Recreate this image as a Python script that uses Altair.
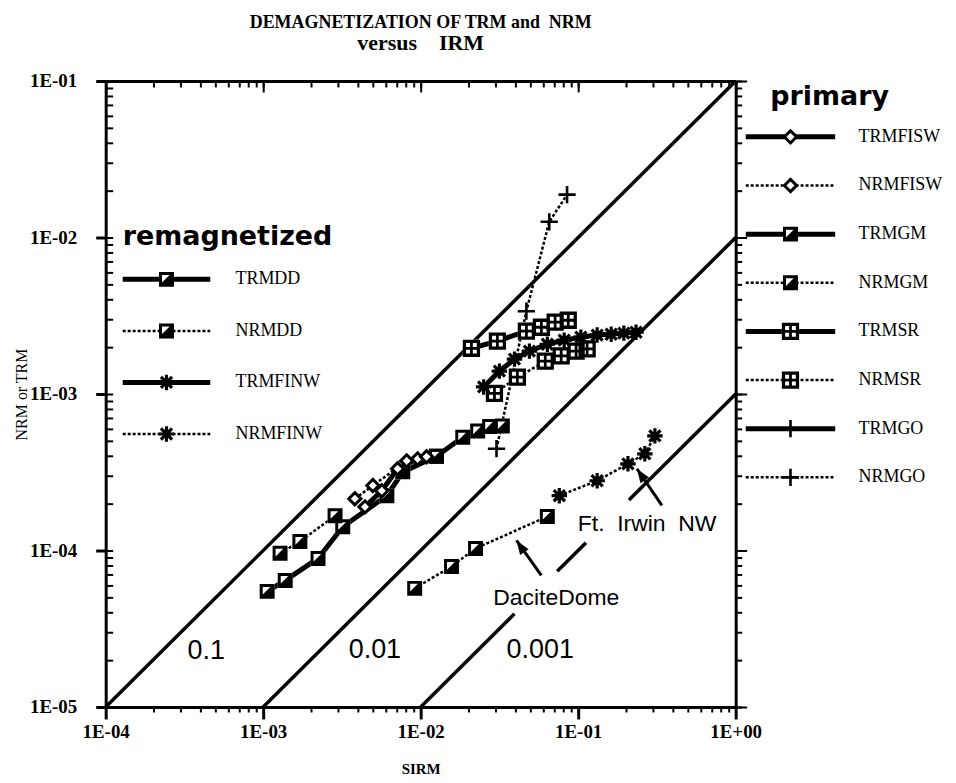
import altair as alt
import pandas as pd

# ---------------- data ----------------
SERIES = ["TRMDD", "NRMDD", "TRMFINW", "NRMFINW",
          "TRMFISW", "NRMFISW", "TRMGM", "NRMGM", "TRMSR", "NRMSR", "TRMGO", "NRMGO"]
STYLE = {"TRMDD": "solid", "NRMDD": "dotted", "TRMFINW": "solid", "NRMFINW": "dotted",
         "TRMFISW": "solid", "NRMFISW": "dotted", "TRMGM": "solid", "NRMGM": "dotted",
         "TRMSR": "solid", "NRMSR": "dotted", "TRMGO": "solid", "NRMGO": "dotted"}
MARKER = {"TRMDD": "half", "NRMDD": "half", "TRMFINW": "star", "NRMFINW": "star",
          "TRMFISW": "diamond", "NRMFISW": "diamond", "TRMGM": "half", "NRMGM": "half",
          "TRMSR": "box", "NRMSR": "box", "TRMGO": "plus", "NRMGO": "plus"}

TRMDD_SIRM = [1.06e-3, 1.38e-3, 2.23e-3, 3.2e-3, 6.1e-3, 7.7e-3, 1.26e-2]
TRMDD_NRM = [5.48e-5, 6.44e-5, 8.9e-5, 1.42e-4, 2.24e-4, 3.18e-4, 4.0e-4]
NRMDD_SIRM = [9.16e-3, 1.57e-2, 2.23e-2, 6.37e-2]
NRMDD_NRM = [5.73e-5, 7.9e-5, 1.03e-4, 1.65e-4]
TRMFINW_SIRM = [2.51e-2, 3.16e-2, 3.94e-2, 4.9e-2, 6.37e-2, 8.15e-2, 0.104, 0.132, 0.162, 0.195, 0.233]
TRMFINW_NRM = [1.11e-3, 1.40e-3, 1.67e-3, 1.88e-3, 2.08e-3, 2.21e-3, 2.31e-3, 2.38e-3, 2.41e-3, 2.45e-3, 2.48e-3]
NRMFINW_SIRM = [7.59e-2, 0.132, 0.207, 0.265, 0.307]
NRMFINW_NRM = [2.24e-4, 2.79e-4, 3.58e-4, 4.15e-4, 5.4e-4]
TRMFISW_SIRM = [4.43e-3, 5.66e-3, 7.14e-3, 9.57e-3]
TRMFISW_NRM = [1.90e-4, 2.41e-4, 3.33e-4, 3.85e-4]
NRMFISW_SIRM = [3.82e-3, 4.97e-3, 8.15e-3, 1.09e-2]
NRMFISW_NRM = [2.14e-4, 2.6e-4, 3.74e-4, 3.97e-4]
TRMGM_SIRM = [1.26e-2, 1.85e-2, 2.3e-2, 2.74e-2, 3.3e-2]
TRMGM_NRM = [4.0e-4, 5.3e-4, 5.8e-4, 6.2e-4, 6.25e-4]
NRMGM_SIRM = [1.28e-3, 1.71e-3, 2.86e-3]
NRMGM_NRM = [9.6e-5, 1.14e-4, 1.67e-4]
TRMSR_SIRM = [2.1e-2, 3.07e-2, 4.69e-2, 5.84e-2, 7.14e-2, 8.65e-2]
TRMSR_NRM = [1.96e-3, 2.18e-3, 2.52e-3, 2.67e-3, 2.88e-3, 2.96e-3]
NRMSR_SIRM = [2.94e-2, 4.11e-2, 6.18e-2, 7.8e-2, 9.7e-2, 0.114]
NRMSR_NRM = [1.01e-3, 1.28e-3, 1.62e-3, 1.75e-3, 1.88e-3, 1.94e-3]
TRMGO_SIRM = []
TRMGO_NRM = []
NRMGO_SIRM = [3.03e-2, 4.69e-2, 6.55e-2, 8.5e-2]
NRMGO_NRM = [4.47e-4, 3.38e-3, 1.26e-2, 1.88e-2]

SERIES_DATA = {
    "TRMDD": (TRMDD_SIRM, TRMDD_NRM), "NRMDD": (NRMDD_SIRM, NRMDD_NRM),
    "TRMFINW": (TRMFINW_SIRM, TRMFINW_NRM), "NRMFINW": (NRMFINW_SIRM, NRMFINW_NRM),
    "TRMFISW": (TRMFISW_SIRM, TRMFISW_NRM), "NRMFISW": (NRMFISW_SIRM, NRMFISW_NRM),
    "TRMGM": (TRMGM_SIRM, TRMGM_NRM), "NRMGM": (NRMGM_SIRM, NRMGM_NRM),
    "TRMSR": (TRMSR_SIRM, TRMSR_NRM), "NRMSR": (NRMSR_SIRM, NRMSR_NRM),
    "TRMGO": (TRMGO_SIRM, TRMGO_NRM), "NRMGO": (NRMGO_SIRM, NRMGO_NRM),
}

# ratio lines NRM/SIRM (visible pieces)
SEG_RATIO = [0.1, 0.01, 0.001, 0.001, 0.001]
SEG_START = [1e-4, 1e-3, 1e-2, 0.0736, 0.210]
SEG_END = [1.0, 1.0, 0.0394, 0.112, 1.0]

RATIO_LABELS = ["0.1", "0.01", "0.001"]
RATIO_LABEL_SIRM = [4.35e-4, 5.12e-3, 5.74e-2]
RATIO_LABEL_NRM = [2.28e-5, 2.31e-5, 2.31e-5]

NOTE_TEXT = ["DaciteDome", "Ft.\u00a0 Irwin\u00a0 NW"]
NOTE_SIRM = [7.26e-2, 0.274]
NOTE_NRM = [5.0e-5, 1.47e-4]
ARROW_TAIL_SIRM = [5.83e-2, 0.340]
ARROW_TAIL_NRM = [6.93e-5, 1.94e-4]
ARROW_TIP_SIRM = [4.06e-2, 0.236]
ARROW_TIP_NRM = [1.16e-4, 3.33e-4]

LEGEND_REMAG = ["TRMDD", "NRMDD", "TRMFINW", "NRMFINW"]
LEGEND_PRIMARY = ["TRMFISW", "NRMFISW", "TRMGM", "NRMGM", "TRMSR", "NRMSR", "TRMGO", "NRMGO"]

X_DECADES = [1e-4, 1e-3, 1e-2, 1e-1, 1.0]
Y_DECADES = [1e-5, 1e-4, 1e-3, 1e-2, 1e-1]

TITLE_LINE1 = "DEMAGNETIZATION OF TRM and\u00a0 NRM"
TITLE_LINE2 = "versus\u00a0\u00a0\u00a0 IRM"

# ---------------- layout / style ----------------
W, H = 632, 628
SERIF = "Liberation Serif"
SANS = "Liberation Sans"
X_MINOR = [m * d for d in X_DECADES[:-1] for m in range(2, 10)]
Y_MINOR = [m * d for d in Y_DECADES[:-1] for m in range(2, 10)]
X_ALL = sorted(X_DECADES + X_MINOR)
Y_ALL = sorted(Y_DECADES + Y_MINOR)

HALF_PATH = "M-1,-1L1,-1L1,1L-1,1Z M-0.6,-0.6L-0.6,0.42L0.42,-0.6Z"
BOX_PATH = ("M-1,-1L1,-1L1,1L-1,1Z "
            "M-0.62,-0.62L-0.62,-0.16L-0.16,-0.16L-0.16,-0.62Z "
            "M0.16,-0.62L0.16,-0.16L0.62,-0.16L0.62,-0.62Z "
            "M-0.62,0.16L-0.62,0.62L-0.16,0.62L-0.16,0.16Z "
            "M0.16,0.16L0.16,0.62L0.62,0.62L0.62,0.16Z")
STAR_PATH = "M-1,0L1,0M0,-1L0,1M-0.72,-0.72L0.72,0.72M-0.72,0.72L0.72,-0.72"
PLUS_PATH = "M-1,0L1,0M0,-1L0,1"
ARROW_PATH = "M0,0L0.42,1.15L-0.42,1.15Z"

LABEL_EXPR = ("'1E' + (datum.value < 0.5 ? '-' : '+') + "
              "(abs(round(log(datum.value)/LN10)) < 10 ? '0' : '') + "
              "abs(round(log(datum.value)/LN10))")

XS = alt.Scale(type="log", domain=[1e-4, 1.0], nice=False)
YS = alt.Scale(type="log", domain=[1e-5, 0.1], nice=False)

X_AXIS = alt.Axis(values=X_DECADES, labelExpr=LABEL_EXPR, title="SIRM", grid=False,
                  tickSize=12, tickWidth=3, tickColor="black", domainWidth=3, domainColor="black",
                  labelFont=SERIF, labelFontSize=19, labelFontWeight="bold", labelColor="black",
                  labelPadding=4, labelFlush=False, labelOverlap=False,
                  titleFont=SERIF, titleFontSize=15, titleFontWeight="bold", titleColor="black",
                  titlePadding=20)
Y_AXIS = alt.Axis(values=Y_DECADES, labelExpr=LABEL_EXPR, title="NRM or TRM", grid=False,
                  tickSize=10, tickWidth=3, tickColor="black", domainWidth=3, domainColor="black",
                  labelFont=SERIF, labelFontSize=19, labelFontWeight="bold", labelColor="black",
                  labelPadding=19, labelFlush=False, labelOverlap=False,
                  titleFont=SERIF, titleFontSize=16, titleFontWeight="normal", titleColor="black",
                  titlePadding=0)


def mx(field):
    return alt.X(field, type="quantitative", scale=XS, axis=X_AXIS)


def my(field):
    return alt.Y(field, type="quantitative", scale=YS, axis=Y_AXIS)


def marker_layers(data, xenc, yenc):
    def sel(kind):
        return alt.Chart(data).transform_filter(alt.datum.marker == kind)
    layers = [
        sel("half").mark_point(shape="square", filled=True, color="white", opacity=1, size=225, strokeWidth=0),
        sel("half").mark_point(shape=HALF_PATH, filled=True, color="black", opacity=1, size=225, strokeWidth=0),
        sel("box").mark_point(shape="square", filled=True, color="white", opacity=1, size=300, strokeWidth=0),
        sel("box").mark_point(shape=BOX_PATH, filled=True, color="black", opacity=1, size=300, strokeWidth=0),
        sel("diamond").mark_point(shape="diamond", filled=True, fill="white", stroke="black",
                                  strokeWidth=3, opacity=1, size=150),
        sel("star").mark_point(shape=STAR_PATH, filled=False, color="black", strokeWidth=3.2,
                               opacity=1, size=240),
        sel("plus").mark_point(shape=PLUS_PATH, filled=False, color="black", strokeWidth=2.6,
                               opacity=1, size=300),
    ]
    return [c.encode(x=xenc, y=yenc) for c in layers]


# ---------------- main data ----------------
rows = []
for name in SERIES:
    xs, ys = SERIES_DATA[name]
    for i, (xv, yv) in enumerate(zip(xs, ys)):
        rows.append({"series": name, "sirm": xv, "nrm": yv, "seq": i,
                     "style": STYLE[name], "marker": MARKER[name]})
df = pd.DataFrame(rows)

seg_df = pd.DataFrame({"sirm": SEG_START, "sirm_end": SEG_END,
                       "nrm": [r * s for r, s in zip(SEG_RATIO, SEG_START)],
                       "nrm_end": [r * e for r, e in zip(SEG_RATIO, SEG_END)]})
ratio_lbl_df = pd.DataFrame({"label": RATIO_LABELS, "sirm": RATIO_LABEL_SIRM, "nrm": RATIO_LABEL_NRM})
note_df = pd.DataFrame({"label": NOTE_TEXT, "sirm": NOTE_SIRM, "nrm": NOTE_NRM})
arrow_df = pd.DataFrame({"sirm": ARROW_TAIL_SIRM, "nrm": ARROW_TAIL_NRM,
                         "sirm_end": ARROW_TIP_SIRM, "nrm_end": ARROW_TIP_NRM})

ratio_lines = alt.Chart(seg_df).mark_rule(color="black", strokeWidth=3.5).encode(
    x=mx("sirm"), x2=alt.X2("sirm_end"), y=my("nrm"), y2=alt.Y2("nrm_end"))
ratio_text = alt.Chart(ratio_lbl_df).mark_text(font=SANS, fontSize=27, color="black",
                                                align="center", baseline="middle").encode(
    x=mx("sirm"), y=my("nrm"), text="label:N")
note_text = alt.Chart(note_df).mark_text(font=SANS, fontSize=23, color="black",
                                          align="center", baseline="middle").encode(
    x=mx("sirm"), y=my("nrm"), text="label:N")
arrow_lines = alt.Chart(arrow_df).mark_rule(color="black", strokeWidth=3).encode(
    x=mx("sirm"), x2=alt.X2("sirm_end"), y=my("nrm"), y2=alt.Y2("nrm_end"))
arrow_heads = alt.Chart(arrow_df).mark_point(shape=ARROW_PATH, filled=True, color="black",
                                             opacity=1, size=600, angle=326, strokeWidth=0).encode(
    x=mx("sirm_end"), y=my("nrm_end"))

solid_lines = alt.Chart(df).transform_filter(alt.datum.style == "solid").mark_line(
    color="black", strokeWidth=5, strokeJoin="round").encode(
    x=mx("sirm"), y=my("nrm"), detail="series:N", order="seq:Q")
dotted_lines = alt.Chart(df).transform_filter(alt.datum.style == "dotted").mark_line(
    color="black", strokeWidth=2.5, strokeDash=[3, 2]).encode(
    x=mx("sirm"), y=my("nrm"), detail="series:N", order="seq:Q")

main = alt.layer(ratio_lines, ratio_text, note_text, arrow_lines, arrow_heads,
                 solid_lines, dotted_lines, *marker_layers(df, mx("sirm"), my("nrm")))

# ---------------- extra tick axes ----------------
dummy = pd.DataFrame({"sirm": [1e-3], "nrm": [1e-3]})


def axis_layer(x_axis, y_axis):
    return alt.Chart(dummy).mark_point(opacity=0).encode(
        x=alt.X("sirm:Q", scale=XS, axis=x_axis),
        y=alt.Y("nrm:Q", scale=YS, axis=y_axis))


def tick_axis(orient, values, size, offset=0, domain=False):
    return alt.Axis(orient=orient, offset=offset, values=values, labels=False, title=None,
                    grid=False, domain=domain, domainWidth=3, domainColor="black",
                    tickSize=size, tickWidth=2, tickColor="black")


ax2 = axis_layer(tick_axis("bottom", X_MINOR, 5), tick_axis("right", Y_ALL, 7, offset=-W))
ax3 = axis_layer(tick_axis("bottom", X_ALL, 6, offset=-H, domain=True),
                 tick_axis("right", Y_ALL, 6, domain=True))
ax4 = axis_layer(tick_axis("bottom", X_DECADES, 11, offset=-H), tick_axis("right", Y_DECADES, 11))


# ---------------- legends ----------------
def legend_layer(names, title, ydomain, x_line0, x_line1, x_mark, x_text, x_title):
    ldf = pd.DataFrame({"name": names, "row": list(range(1, len(names) + 1)),
                        "style": [STYLE[n] for n in names], "marker": [MARKER[n] for n in names]})
    ldf["lx0"] = x_line0
    ldf["lx1"] = x_line1
    ldf["lxm"] = x_mark
    ldf["lxt"] = x_text

    def lx(f):
        return alt.X(f, type="quantitative", scale=alt.Scale(domain=[0, 1], nice=False, zero=False), axis=None)

    def ly(f):
        return alt.Y(f, type="quantitative",
                     scale=alt.Scale(domain=ydomain, nice=False, zero=False, reverse=True), axis=None)

    base = alt.Chart(ldf)
    solid = base.transform_filter(alt.datum.style == "solid").mark_rule(
        color="black", strokeWidth=5).encode(x=lx("lx0"), x2=alt.X2("lx1"), y=ly("row"))
    dotted = base.transform_filter(alt.datum.style == "dotted").mark_rule(
        color="black", strokeWidth=2.5, strokeDash=[3, 2]).encode(x=lx("lx0"), x2=alt.X2("lx1"), y=ly("row"))
    text = base.mark_text(align="left", baseline="middle", font=SERIF, fontSize=18, color="black").encode(
        x=lx("lxt"), y=ly("row"), text="name:N")
    tdf = pd.DataFrame({"title": [title], "row": [0], "lxt": [x_title]})
    ttl = alt.Chart(tdf).mark_text(align="left", baseline="middle", dy=9, font="DejaVu Sans",
                                   fontWeight="bold", fontSize=27, color="black").encode(
        x=lx("lxt"), y=ly("row"), text="title:N")
    return alt.layer(solid, dotted, *marker_layers(ldf, lx("lxm"), ly("row")), text, ttl)


leg_remag = legend_layer(LEGEND_REMAG, "remagnetized", [-2.849, 9.298],
                         0.027, 0.166, 0.0965, 0.206, 0.027)
leg_primary = legend_layer(LEGEND_PRIMARY, "primary", [-0.148, 12.721],
                           1.016, 1.158, 1.087, 1.195, 1.055)

chart = alt.layer(main, ax2, ax3, ax4, leg_remag, leg_primary).resolve_scale(
    x="independent", y="independent").properties(
    width=W, height=H,
    title=alt.TitleParams(text=TITLE_LINE1, subtitle=TITLE_LINE2, font=SERIF,
                          fontSize=18, fontWeight="bold", color="black",
                          subtitleFont=SERIF, subtitleFontSize=22, subtitleFontWeight="bold",
                          subtitleColor="black", subtitlePadding=1,
                          anchor="middle", offset=18),
).configure_view(strokeWidth=0).configure(background="white")

chart.save("out.html", embed_options={"renderer": "svg", "actions": False})
